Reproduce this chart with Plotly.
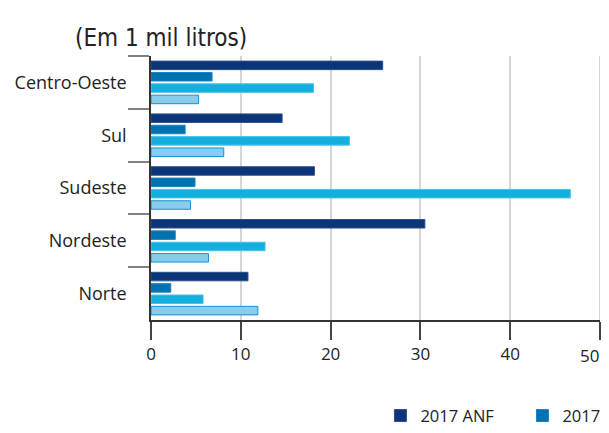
import plotly.graph_objects as go

regions = ["Centro-Oeste", "Sul", "Sudeste", "Nordeste", "Norte"]
series_names = ["2017 ANF", "2017", "Série 3", "Série 4"]
v_2017_anf = [25.8, 14.6, 18.2, 30.5, 10.8]
v_2017 = [6.8, 3.8, 4.9, 2.7, 2.2]
v_s3 = [18.1, 22.1, 46.7, 12.7, 5.8]
v_s4 = [5.3, 8.1, 4.4, 6.4, 11.9]
x_ticks = [0, 10, 20, 30, 40, 50]

values = [v_2017_anf, v_2017, v_s3, v_s4]
fills = ["#0b3479", "#0072b1", "#13afdf", "#87cdee"]
lines = ["#2c4f8e", "#1a82bd", "#4cc2e8", "#1b8fcf"]
show = [True, True, False, False]

fig = go.Figure()
for name, vals, fc, lc, sl in zip(series_names, values, fills, lines, show):
    fig.add_trace(go.Bar(
        y=regions, x=vals, name=name, orientation="h",
        marker=dict(color=fc, line=dict(color=lc, width=1)),
        showlegend=sl,
    ))

# gridline at the right end of the range (plotly drops grid lines at range edges)
fig.add_shape(type="line", xref="x", yref="paper", x0=x_ticks[-1], x1=x_ticks[-1],
              y0=0, y1=1, line=dict(color="#d6d6d6", width=2), layer="below")

font_main = "Open Sans, Noto Sans, sans-serif"
tick_text = [str(v) for v in x_ticks[:-1]] + [""]

fig.update_layout(
    width=601, height=417,
    margin=dict(l=143, r=9, t=48, b=105, autoexpand=False),
    paper_bgcolor="white", plot_bgcolor="white",
    barmode="group", bargap=0.14, bargroupgap=0.25,
    font=dict(family=font_main, size=17, color="#222222"),
    xaxis=dict(
        range=[0, 50], tickvals=x_ticks, ticktext=tick_text, showgrid=True,
        gridcolor="#d6d6d6", gridwidth=1.5,
        showline=True, linecolor="#333333", linewidth=1.5,
        ticks="outside", ticklen=18, tickcolor="#444444", tickwidth=1.5,
        zeroline=False, tickfont=dict(size=17), ticklabelstandoff=0,
        ticklabeloverflow="allow",
    ),
    yaxis=dict(
        autorange="reversed", showline=True, linecolor="#333333", linewidth=1.5,
        ticks="outside", tickson="boundaries", ticklen=21,
        tickcolor="#808080", tickwidth=1.5, showgrid=False,
        tickfont=dict(size=18), ticklabelstandoff=19,
    ),
    legend=dict(
        orientation="h", x=0.511, xanchor="left", y=-0.363, yanchor="middle",
        font=dict(size=16.5), entrywidth=97, entrywidthmode="pixels",
    ),
    annotations=[
        dict(
            text="(Em 1 mil litros)", xref="paper", yref="paper",
            x=-0.174, y=1.068, xanchor="left", yanchor="middle", showarrow=False,
            font=dict(family="DejaVu Sans Condensed, Liberation Sans Narrow, sans-serif", size=24, color="#222222"),
        ),
        dict(
            text=str(x_ticks[-1]), xref="x", yref="paper",
            x=x_ticks[-1], y=-0.133, xanchor="right", yanchor="middle", xshift=1,
            showarrow=False, font=dict(family=font_main, size=17, color="#222222"),
        ),
    ],
)

fig.write_html("out.html")
